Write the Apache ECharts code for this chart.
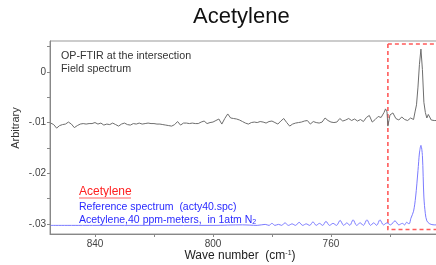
<!doctype html>
<html>
<head>
<meta charset="utf-8">
<script src="https://cdn.jsdelivr.net/npm/echarts@6/dist/echarts.min.js"></script>
<style>
  html, body { margin: 0; padding: 0; background: #fff; }
  #main { width: 436px; height: 265px; }
</style>
</head>
<body>
<div id="main"></div>
<script type="text/javascript">
// field spectrum (OP-FTIR), wave number in cm-1 and absorbance
var fieldWn = [855, 854, 853, 852, 851, 850, 849, 848, 847, 846, 845, 844, 843, 842, 841, 840,
  839, 838, 837, 836, 835, 834, 833, 832, 831, 830, 829, 828, 827, 826, 825, 824, 823, 822,
  821, 820, 819, 818, 817, 816, 815, 814, 813, 812, 811, 810, 809, 808, 807, 806, 805, 804,
  803, 802, 801, 800, 799, 798, 797, 796, 795, 794, 793, 792, 791, 790, 789, 788, 787, 786,
  785, 784, 783, 782, 781, 780, 779, 778, 777, 776, 775, 774, 773, 772, 771, 770, 769, 768,
  767, 766, 765, 764, 763, 762, 761, 760, 759, 758, 757, 756, 755, 754, 753, 752, 751, 750,
  749, 748, 747, 746, 745, 744, 743, 742, 741.5, 741, 740.7, 740, 739, 738, 737, 736, 735,
  734, 733, 732, 731.5, 731, 730.5, 730, 729.5, 729, 728.5, 728, 727.5, 727, 726.5, 726,
  725.5, 725, 724.4, 723, 722];
var fieldVal = [-0.0101, -0.0104, -0.0111, -0.0106, -0.0104, -0.0103, -0.0099, -0.0103, -0.0110,
  -0.0106, -0.0103, -0.0102, -0.0103, -0.0102, -0.0102, -0.0100, -0.0103, -0.0101, -0.0105,
  -0.0103, -0.0104, -0.0101, -0.0104, -0.0107, -0.0103, -0.0101, -0.0104, -0.0105, -0.0102,
  -0.0103, -0.0101, -0.0103, -0.0102, -0.0101,
  -0.0102, -0.0102, -0.0103, -0.0103, -0.0104, -0.0105, -0.0106, -0.0107, -0.0104, -0.0098,
  -0.0105, -0.0101, -0.0101, -0.0102, -0.0101, -0.0102, -0.0102, -0.0099, -0.0097, -0.0102,
  -0.0100, -0.0099, -0.0096, -0.0093, -0.0103, -0.0092, -0.0083, -0.0091, -0.0092, -0.0093,
  -0.0095, -0.0098, -0.0101, -0.0103, -0.0100, -0.0099, -0.0100, -0.0098, -0.0099, -0.0101,
  -0.0098, -0.0097, -0.0100, -0.0103, -0.0097, -0.0092, -0.0100, -0.0107, -0.0103, -0.0101,
  -0.0100, -0.0099, -0.0097, -0.0096, -0.0103, -0.0098, -0.0100, -0.0101, -0.0099, -0.0091,
  -0.0096, -0.0099, -0.0100, -0.0099, -0.0092, -0.0097, -0.0095, -0.0092, -0.0096, -0.0093,
  -0.0097, -0.0094, -0.0098, -0.0090, -0.0086, -0.0099, -0.0094, -0.0088, -0.0090, -0.0080,
  -0.0073, -0.0079, -0.0107, -0.0085, -0.0081, -0.0092, -0.0095, -0.0089, -0.0094, -0.0096,
  -0.0091, -0.0094, -0.0079, -0.0065, -0.0030, 0.0015, 0.0045, 0.0005, -0.0060, -0.0080,
  -0.0091, -0.0084, -0.0082, -0.0095, -0.0097, -0.0096, -0.0097, -0.0096, -0.0097];

// reference spectrum (acty40.spc)
var refWn = [855, 840, 820, 800, 790, 785, 782.3, 781, 780, 779, 777.8, 776.7, 775.6, 774.4,
  773.2, 772, 770.8, 769.6, 768.4, 767.2, 766.1, 765, 763.9, 762.8, 761.7, 760.5, 759.3,
  758.1, 756.9, 755.7, 754.6, 753.6, 752.5, 751.3, 750.1, 749, 747.8, 746.6, 745.5, 744.5,
  743.4, 742.2, 741, 739.8, 738.3, 737, 735.8, 735, 734.4, 733.5, 732.9, 732, 731.3, 730.5,
  730, 729.5, 729, 728.5, 728, 727.5, 726.5, 725, 723, 722];
var refVal = [-0.0303, -0.0303, -0.0303, -0.0303, -0.0302, -0.0303, -0.0301, -0.0303, -0.0299,
  -0.0303, -0.0301, -0.0303, -0.0298, -0.0303, -0.0300, -0.0303, -0.0297, -0.0303, -0.0300,
  -0.0303, -0.0296, -0.0303, -0.0299, -0.0303, -0.0295, -0.0303, -0.0299, -0.0303, -0.0293,
  -0.0303, -0.0298, -0.0303, -0.0292, -0.0303, -0.0298, -0.0303, -0.0292, -0.0303, -0.0298,
  -0.0303, -0.0292, -0.0302, -0.0298, -0.0302, -0.0294, -0.0302, -0.0299, -0.0302, -0.0297,
  -0.0300, -0.0289, -0.0275, -0.0247, -0.0195, -0.0160, -0.0145, -0.0165, -0.0247, -0.0280,
  -0.0294, -0.0300, -0.0302, -0.0302, -0.0302];

// dashed box around the Q-branch
var boxWn = [740.7, 721];
var boxVal = [0.0055, -0.0311];

var xLabels = [840, 800, 760];
var yLabels = [0, -0.01, -0.02, -0.03];

function pairs(a, b) {
  var res = [];
  for (var i = 0; i < a.length; i++) {
    res.push([a[i], b[i]]);
  }
  return res;
}

var myChart = echarts.init(document.getElementById('main'));

var option = {
  animation: false,
  backgroundColor: '#fff',
  textStyle: { fontFamily: 'Liberation Sans, Arial, sans-serif' },
  grid: {
    left: 50, right: -10, top: 41, bottom: 31,
    outerBoundsMode: 'none',
    show: true, borderColor: '#999', borderWidth: 1
  },
  xAxis: {
    type: 'value',
    inverse: true,
    min: 721,
    max: 855.25,
    splitNumber: 7,
    axisLine: { onZero: false, lineStyle: { color: '#888' } },
    axisTick: { length: 3, lineStyle: { color: '#888' } },
    splitLine: { show: false },
    axisLabel: {
      fontSize: 10, color: '#444', margin: 5,
      showMinLabel: false, showMaxLabel: false,
      formatter: function (v) {
        return xLabels.indexOf(Math.round(v)) >= 0 && Math.abs(v - Math.round(v)) < 1e-6 ? String(v) : '';
      }
    }
  },
  yAxis: {
    type: 'value',
    min: -0.032,
    max: 0.0061,
    splitNumber: 8,
    axisLine: { show: true, onZero: false, lineStyle: { color: '#888' } },
    axisTick: { show: true, length: 3, lineStyle: { color: '#888' } },
    splitLine: { show: false },
    axisLabel: {
      fontSize: 10, color: '#444', margin: 4,
      showMinLabel: false, showMaxLabel: false,
      formatter: function (v) {
        for (var i = 0; i < yLabels.length; i++) {
          if (Math.abs(v - yLabels[i]) < 1e-7) {
            return yLabels[i] === 0 ? '0' : String(yLabels[i]).replace('0.', '.');
          }
        }
        return '';
      }
    }
  },
  graphic: [
    { type: 'text', left: 193, top: 6, style: { text: 'Acetylene', fontSize: 22, fill: '#111', fontFamily: 'Liberation Sans' } },
    { type: 'text', x: 240, y: 256, style: {
        text: 'Wave number  (cm{sup|-1})', fontSize: 12, fill: '#222', align: 'center', verticalAlign: 'middle', fontFamily: 'Liberation Sans',
        rich: { sup: { fontSize: 7, fill: '#222', padding: [0, 0, 6, 0] } }
      } },
    { type: 'text', x: 16, y: 128, rotation: Math.PI / 2,
      style: { text: 'Arbitrary', fontSize: 11, fill: '#333', align: 'center', verticalAlign: 'middle', fontFamily: 'Liberation Sans' } },
    { type: 'text', x: 61, y: 56, style: { text: 'OP-FTIR at the intersection', fontSize: 10.7, fill: '#333', verticalAlign: 'middle', fontFamily: 'Liberation Sans' } },
    { type: 'text', x: 61, y: 69, style: { text: 'Field spectrum', fontSize: 10.7, fill: '#333', verticalAlign: 'middle', fontFamily: 'Liberation Sans' } },
    { type: 'text', x: 79, y: 192, style: { text: 'Acetylene', fontSize: 12, fill: '#ff2020', verticalAlign: 'middle', fontFamily: 'Liberation Sans' } },
    { type: 'line', shape: { x1: 79, y1: 198, x2: 131, y2: 198 }, style: { stroke: '#ffb0b0', lineWidth: 2 } },
    { type: 'text', x: 79, y: 207, style: { text: 'Reference spectrum  (acty40.spc)', fontSize: 10.5, fill: '#2a2aff', verticalAlign: 'middle', fontFamily: 'Liberation Sans' } },
    { type: 'text', x: 79, y: 220, style: {
        text: 'Acetylene,40 ppm-meters,  in 1atm N{sub|2}', fontSize: 10.5, fill: '#2a2aff', verticalAlign: 'middle', fontFamily: 'Liberation Sans',
        rich: { sub: { fontSize: 7, fill: '#2a2aff', padding: [5, 0, 0, 0] } }
      } }
  ],
  series: [
    {
      name: 'Field spectrum',
      type: 'line',
      data: pairs(fieldWn, fieldVal),
      showSymbol: false,
      lineStyle: { color: '#6e6e6e', width: 1 },
      markArea: {
        silent: true,
        itemStyle: { color: 'rgba(0,0,0,0)', borderColor: '#ff5a5a', borderWidth: 1.6, borderType: [4, 3] },
        data: [[{ coord: [boxWn[0], boxVal[0]] }, { coord: [boxWn[1], boxVal[1]] }]]
      }
    },
    {
      name: 'Reference spectrum',
      type: 'line',
      data: pairs(refWn, refVal),
      showSymbol: false,
      smooth: 0.3,
      lineStyle: { color: '#7a7aff', width: 1 }
    }
  ]
};

myChart.setOption(option);
</script>
</body>
</html>
